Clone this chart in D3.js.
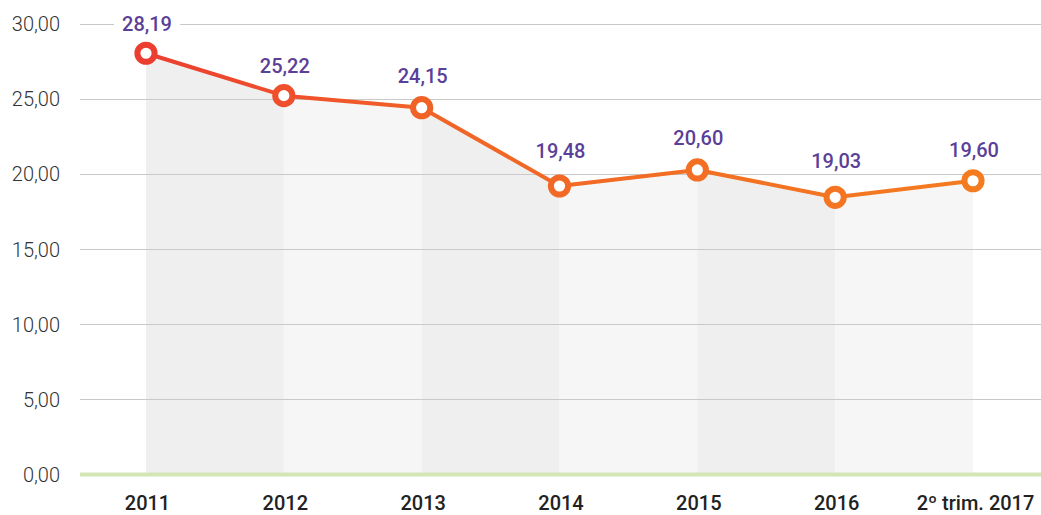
<!DOCTYPE html>
<html>
<head>
<meta charset="utf-8">
<script src="https://cdn.jsdelivr.net/npm/d3@7"></script>
<style>
  html, body { margin: 0; padding: 0; background: #ffffff; }
  svg { display: block; }
</style>
</head>
<body>
<svg id="chart" width="1041" height="515"></svg>
<script>
// ---- data ----
const categories = ["2011", "2012", "2013", "2014", "2015", "2016", "2º trim. 2017"];
// marker positions
const values = [28.02, 25.20, 24.40, 19.19, 20.26, 18.44, 19.54];
// printed value labels
const valueLabels = ["28,19", "25,22", "24,15", "19,48", "20,60", "19,03", "19,60"];
const yTicks = [0, 5, 10, 15, 20, 25, 30];

// ---- layout (not data) ----
const labelGap = [22.6, 22.4, 24.4, 27.7, 25, 29, 24]; // px above marker for each value label
const gridLeft = 80, gridRight = 1041;
const svg = d3.select("#chart");

const x = d3.scalePoint().domain(categories).range([146, 973]);
const y = d3.scaleLinear().domain([0, 30]).range([474.5, 23.5]);

const locale = d3.formatLocale({ decimal: ",", thousands: ".", grouping: [3], currency: ["", "€"] });
const fmt = locale.format(".2f");

const gradStops = [[0, "#ec3e30"], [0.17, "#ef4f2c"], [0.34, "#f16327"], [1, "#f47b20"]];
const colorScale = d3.scaleLinear()
  .domain(gradStops.map(s => s[0]))
  .range(gradStops.map(s => s[1]))
  .interpolate(d3.interpolateRgb);
const colorAt = px => colorScale((px - x.range()[0]) / (x.range()[1] - x.range()[0]));

const defs = svg.append("defs");
const grad = defs.append("linearGradient")
  .attr("id", "lineGrad")
  .attr("gradientUnits", "userSpaceOnUse")
  .attr("x1", x.range()[0]).attr("x2", x.range()[1])
  .attr("y1", 0).attr("y2", 0);
grad.selectAll("stop").data(gradStops).join("stop")
  .attr("offset", d => (d[0] * 100) + "%")
  .attr("stop-color", d => d[1]);

const data = categories.map((c, i) => ({ c, v: values[i], label: valueLabels[i], gap: labelGap[i] }));

// ---- shaded columns under the line ----
const area = d3.area()
  .x(d => x(d.c))
  .y0(y(0))
  .y1(d => y(d.v));
svg.append("g").selectAll("path")
  .data(d3.pairs(data))
  .join("path")
  .attr("d", d => area(d))
  .attr("fill", (d, i) => i % 2 === 0 ? "#efefef" : "#f6f6f6");

// ---- gridlines ----
svg.append("g").selectAll("line")
  .data(yTicks.filter(t => t !== 0))
  .join("line")
  .attr("x1", gridLeft).attr("x2", gridRight)
  .attr("y1", d => Math.round(y(d)) + 0.5).attr("y2", d => Math.round(y(d)) + 0.5)
  .attr("stroke", "#c9c9c9")
  .attr("stroke-width", 1);

// baseline
svg.append("line")
  .attr("x1", gridLeft).attr("x2", gridRight)
  .attr("y1", y(0)).attr("y2", y(0))
  .attr("stroke", "#d5e6b6")
  .attr("stroke-width", 4);

// ---- y axis labels ----
const yAxis = d3.axisLeft(y).tickValues(yTicks).tickFormat(fmt).tickSize(0).tickPadding(0);
const yg = svg.append("g").attr("transform", "translate(60,0)").call(yAxis);
yg.select(".domain").remove();
yg.selectAll("text")
  .attr("font-family", "Roboto, sans-serif")
  .attr("font-weight", 300)
  .attr("font-size", 20)
  .attr("fill", "#333333")
  .attr("dy", "0.35em");

// ---- x axis labels ----
const xAxis = d3.axisBottom(x).tickSize(0).tickPadding(0);
const xg = svg.append("g").attr("transform", "translate(0,510)").call(xAxis);
xg.select(".domain").remove();
xg.selectAll("text")
  .attr("font-family", "Roboto, sans-serif")
  .attr("font-weight", 500)
  .attr("font-size", 20)
  .attr("fill", "#222222")
  .attr("dy", 0)
  .attr("x", d => d === categories[categories.length - 1] ? 2 : 1);

// ---- value labels (with white backing) ----
const lab = svg.append("g").selectAll("g")
  .data(data)
  .join("g")
  .attr("transform", d => `translate(${x(d.c) + 1},${y(d.v) - d.gap})`);
lab.append("text")
  .text(d => d.label)
  .attr("text-anchor", "middle")
  .attr("font-family", "Roboto, sans-serif")
  .attr("font-weight", 500)
  .attr("font-size", 20)
  .attr("fill", "#5c3f98");
lab.each(function () {
  const g = d3.select(this);
  const bb = g.select("text").node().getBBox();
  g.insert("rect", "text")
    .attr("x", bb.x - 8).attr("y", -19)
    .attr("width", bb.width + 16).attr("height", 22)
    .attr("fill", "#ffffff");
});

// ---- line ----
const line = d3.line().x(d => x(d.c)).y(d => y(d.v));
svg.append("path")
  .datum(data)
  .attr("d", line)
  .attr("fill", "none")
  .attr("stroke", "url(#lineGrad)")
  .attr("stroke-width", 4)
  .attr("stroke-linejoin", "round");

// ---- markers ----
svg.append("g").selectAll("circle")
  .data(data)
  .join("circle")
  .attr("cx", d => x(d.c))
  .attr("cy", d => y(d.v))
  .attr("r", 8.6)
  .attr("fill", "#ffffff")
  .attr("stroke", d => colorAt(x(d.c)))
  .attr("stroke-width", 6);
</script>
</body>
</html>
